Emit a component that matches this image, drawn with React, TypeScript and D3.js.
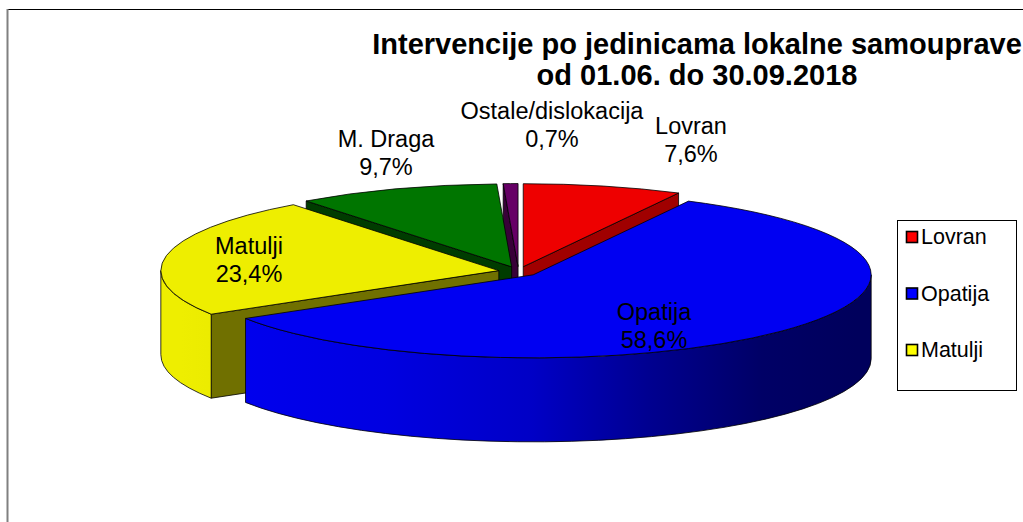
import React from "react";
import * as d3 from "d3";

// ---- data ----
const categories = ["Lovran", "Opatija", "Matulji", "M. Draga", "Ostale/dislokacija"];
const values = [7.6, 58.6, 23.4, 9.7, 0.7];
const percentLabels = ["7,6%", "58,6%", "23,4%", "9,7%", "0,7%"];
const legendItems = ["Lovran", "Opatija", "Matulji"];
const titleLines = ["Intervencije po jedinicama lokalne samouprave", "od 01.06. do 30.09.2018"];

// ---- styles / layout ----
const W = 1023;
const H = 522;
const FONT = "'Liberation Sans', Arial, Helvetica, sans-serif";
const topColors = ["#EE0000", "#0000F2", "#EEEE00", "#007500", "#660066"];
const faceColors = ["#A00000", "#000080", "#707000", "#003C00", "#380038"];
const legendColors = ["#FF0000", "#0000FF", "#FFFF00"];
// label anchors: [centerX, baseline of first line]
const labelLayout: [number, number][] = [
  [691, 134],
  [654, 320],
  [249, 254],
  [386, 147],
  [552, 119],
];

const CX = 518.5;
const CY = 271.5;
const RX = 338;
const RY = 83;
const DEPTH = 84;
const EXPLODE = 20;

type Pt = [number, number];

export default function App() {
  const pie = d3
    .pie<number>()
    .sort(null)
    .startAngle(0)
    .endAngle(2 * Math.PI)
    .value((d) => d);
  const arcs = pie(values);
  const color = d3.scaleOrdinal<string, string>().domain(categories).range(topColors);
  const faceColor = d3.scaleOrdinal<string, string>().domain(categories).range(faceColors);

  const slices = arcs.map((a, i) => {
    const mid = (a.startAngle + a.endAngle) / 2;
    const cx = CX + EXPLODE * Math.sin(mid);
    const cy = CY - EXPLODE * Math.cos(mid) * (RY / RX);
    const P = (t: number, dy = 0): Pt => [cx + RX * Math.sin(t), cy - RY * Math.cos(t) + dy];
    return { a, i, mid, cx, cy, P, name: categories[i] };
  });

  const fmt = (p: Pt) => `${p[0].toFixed(2)},${p[1].toFixed(2)}`;

  const order = [...slices].sort((s1, s2) => -Math.cos(s1.mid) - -Math.cos(s2.mid));

  const gradStops = [
    [0, 1.0],
    [0.1, 0.98],
    [0.3, 0.93],
    [0.52, 0.82],
    [0.69, 0.6],
    [0.86, 0.42],
    [1, 0.38],
  ];

  const shade = (c: string, f: number) => {
    const rgb = d3.rgb(c);
    return d3.rgb(rgb.r * f, rgb.g * f, rgb.b * f).formatHex();
  };

  const elements: React.ReactNode[] = [];
  order.forEach((s) => {
    const { a, P, cx, cy, i } = s;
    const apexTop: Pt = [cx, cy];
    const apexBot: Pt = [cx, cy + DEPTH];
    const strokeProps = { stroke: "#000", strokeWidth: 0.8, strokeLinejoin: "round" as const };
    // cut faces
    const faces: number[] = [];
    if (-Math.cos(a.startAngle - Math.PI / 2) > 0.001) faces.push(a.startAngle);
    if (-Math.cos(a.endAngle + Math.PI / 2) > 0.001) faces.push(a.endAngle);
    faces.forEach((t, k) => {
      const d = `M${fmt(apexTop)}L${fmt(P(t))}L${fmt(P(t, DEPTH))}L${fmt(apexBot)}Z`;
      elements.push(<path key={`f${i}-${k}`} d={d} fill={faceColor(s.name)} {...strokeProps} />);
    });
    // outer wall
    const wa = Math.max(a.startAngle, Math.PI / 2);
    const wb = Math.min(a.endAngle, (3 * Math.PI) / 2);
    if (wb > wa) {
      const large = wb - wa > Math.PI ? 1 : 0;
      const d =
        `M${fmt(P(wa))}A${RX},${RY} 0 ${large} 1 ${fmt(P(wb))}` +
        `L${fmt(P(wb, DEPTH))}A${RX},${RY} 0 ${large} 0 ${fmt(P(wa, DEPTH))}Z`;
      elements.push(<path key={`w${i}`} d={d} fill={`url(#wall${i})`} {...strokeProps} />);
    }
    // top
    const large = a.endAngle - a.startAngle > Math.PI ? 1 : 0;
    const dTop = `M${fmt(apexTop)}L${fmt(P(a.startAngle))}A${RX},${RY} 0 ${large} 1 ${fmt(P(a.endAngle))}Z`;
    elements.push(<path key={`t${i}`} d={dTop} fill={color(s.name)} {...strokeProps} />);
  });

  return (
    <svg
      width={W}
      height={H}
      viewBox={`0 0 ${W} ${H}`}
      style={{ position: "absolute", left: 0, top: 0, background: "#fff" }}
    >
      <defs>
        {slices.map((s) => (
          <linearGradient
            key={s.i}
            id={`wall${s.i}`}
            gradientUnits="userSpaceOnUse"
            x1={CX - RX}
            x2={CX + RX}
            y1={0}
            y2={0}
          >
            {gradStops.map(([o, f], k) => (
              <stop key={k} offset={o} stopColor={shade(color(s.name), f)} />
            ))}
          </linearGradient>
        ))}
      </defs>
      <rect x={0} y={0} width={W} height={H} fill="#fff" />
      {/* frame */}
      <line x1={7.5} x2={W} y1={9.5} y2={9.5} stroke="#000" strokeWidth={1} />
      <line x1={7.5} x2={7.5} y1={9} y2={H} stroke="#808080" strokeWidth={2} />

      {/* title */}
      <text
        x={697}
        textAnchor="middle"
        fontFamily={FONT}
        fontWeight="bold"
        fontSize={29}
        fill="#000"
      >
        <tspan x={697} y={54}>{titleLines[0]}</tspan>
        <tspan x={697} y={85}>{titleLines[1]}</tspan>
      </text>

      {elements}

      {/* data labels */}
      {slices.map((s) => {
        const [lx, ly] = labelLayout[s.i];
        return (
          <text key={`l${s.i}`} textAnchor="middle" fontFamily={FONT} fontSize={23.5} fill="#000">
            <tspan x={lx} y={ly}>{categories[s.i]}</tspan>
            <tspan x={lx} y={ly + 27.5}>{percentLabels[s.i]}</tspan>
          </text>
        );
      })}

      {/* legend */}
      <rect x={897.5} y={220.5} width={119} height={170} fill="#fff" stroke="#000" strokeWidth={1} />
      {legendItems.map((name, k) => {
        const y = 244 + k * 56.5;
        return (
          <g key={name}>
            <rect
              x={906.5}
              y={y - 12.5}
              width={11}
              height={11}
              fill={legendColors[k]}
              stroke="#000"
              strokeWidth={1.6}
            />
            <text x={921} y={y} fontFamily={FONT} fontSize={21.5} fill="#000">
              {name}
            </text>
          </g>
        );
      })}
    </svg>
  );
}
